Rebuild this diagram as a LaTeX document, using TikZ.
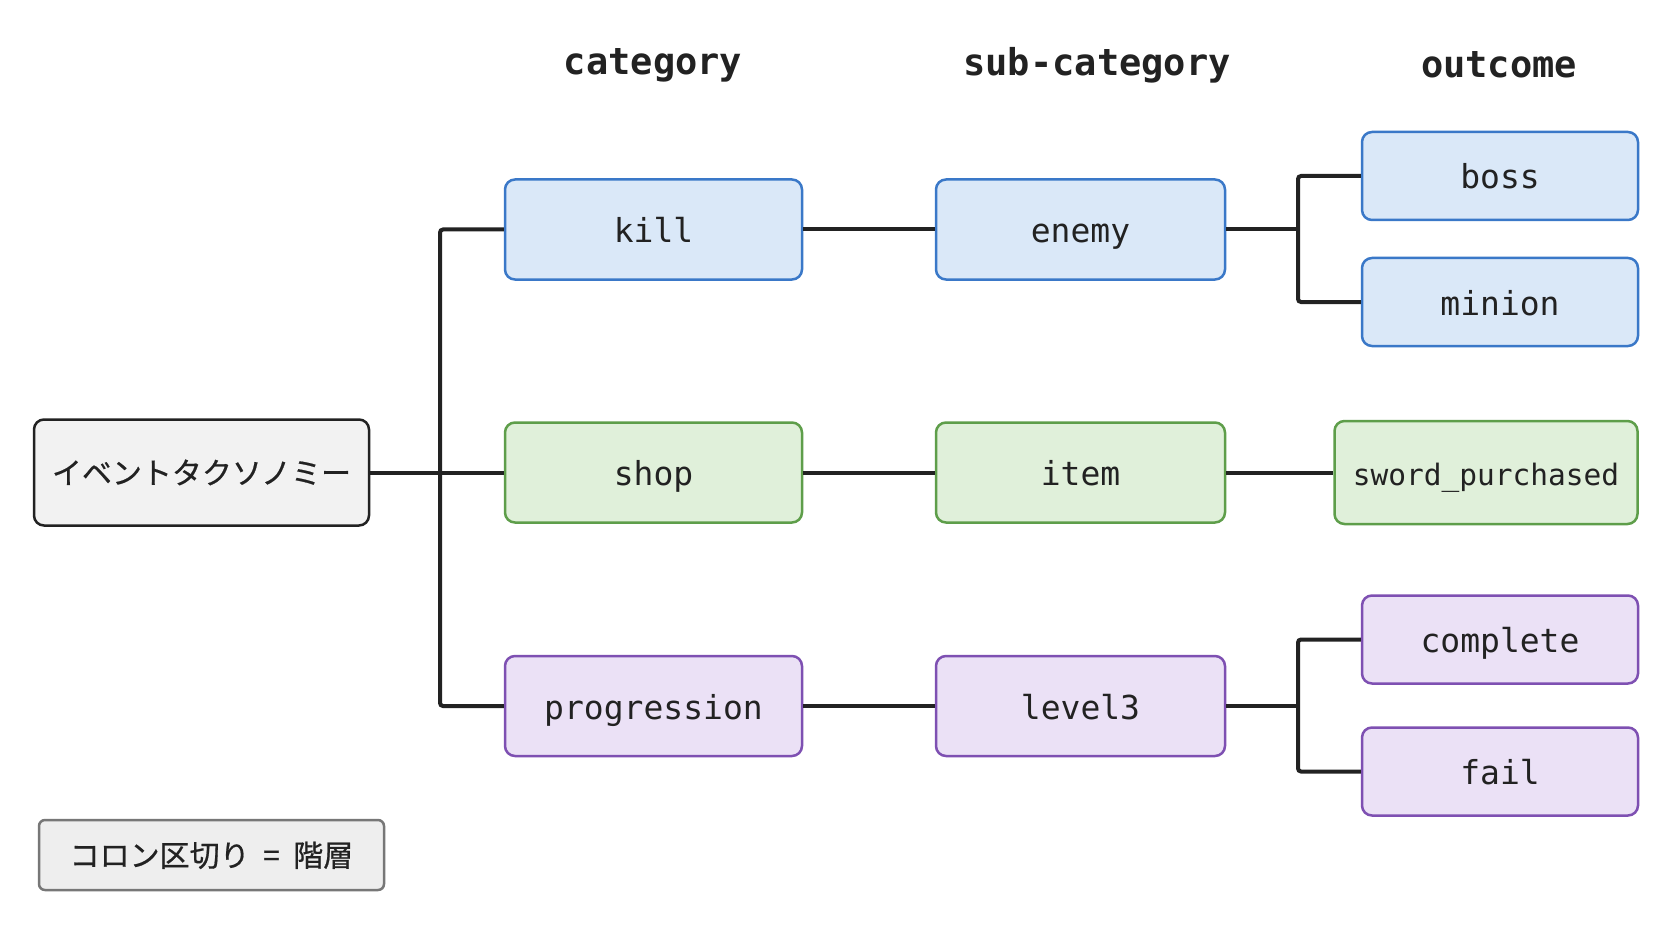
\documentclass[tikz,border=0pt]{standalone}
\usepackage{fontspec}
\setmonofont{DejaVu Sans Mono}
\newfontfamily\jpfont[FakeBold=0.6]{Noto Sans CJK JP}
\definecolor{bluefill}{HTML}{DAE8F8}
\definecolor{blueline}{HTML}{3A78C8}
\definecolor{greenfill}{HTML}{E0F0DA}
\definecolor{greenline}{HTML}{5E9E4A}
\definecolor{purpfill}{HTML}{EBE1F6}
\definecolor{purpline}{HTML}{7E50B2}
\definecolor{rootfill}{HTML}{F2F2F2}
\definecolor{legfill}{HTML}{EEEEEE}
\definecolor{legline}{HTML}{777777}
\definecolor{ink}{HTML}{222222}
\tikzset{
  box/.style={rectangle, rounded corners=10pt, line width=2.5pt, align=center, inner sep=0pt,
    text height=30pt, text depth=4pt, font=\ttfamily\fontsize{33}{38}\selectfont, text=ink},
  jptext/.style={text height=26pt, text depth=3pt},
  bluebox/.style={box, draw=blueline, fill=bluefill},
  greenbox/.style={box, draw=greenline, fill=greenfill},
  purpbox/.style={box, draw=purpline, fill=purpfill},
  catsize/.style={minimum width=297pt, minimum height=100pt},
  subsize/.style={minimum width=289pt, minimum height=100pt},
  outsize/.style={minimum width=276pt, minimum height=88pt},
  header/.style={font=\ttfamily\bfseries\fontsize{37}{42}\selectfont, text=ink},
  conn/.style={draw=ink, line width=4pt, rounded corners=3pt},
}
\begin{document}
\begin{tikzpicture}[x=1pt,y=-1pt]
\useasboundingbox[fill=white] (0,0) rectangle (1672,941);
% headers
\node[header] (h1) at (653,65) {category};
\node[header] (h2) at (1097,65) {sub-category};
\node[header] (h3) at (1499,65) {outcome};
% root
\node[box, jptext, draw=ink, fill=rootfill, minimum width=335pt, minimum height=106pt, font=\jpfont\fontsize{30}{36}\selectfont] (root) at (201.5,472.5) {イベントタクソノミー};
% categories
\node[bluebox, catsize] (kill) at (653.5,229.5) {kill};
\node[greenbox, catsize] (shop) at (653.5,472.5) {shop};
\node[purpbox, catsize] (prog) at (653.5,706) {progression};
% sub-categories
\node[bluebox, subsize] (enemy) at (1080.5,229.5) {enemy};
\node[greenbox, subsize] (item) at (1080.5,472.5) {item};
\node[purpbox, subsize] (level) at (1080.5,706) {level3};
% outcomes
\node[bluebox, outsize] (boss) at (1500,176) {boss};
\node[bluebox, outsize] (minion) at (1500,302) {minion};
\node[greenbox, minimum width=303pt, minimum height=103pt, font=\ttfamily\fontsize{29.5}{34}\selectfont] (sword) at (1486,472.5) {sword\_purchased};
\node[purpbox, outsize] (complete) at (1500,639.5) {complete};
\node[purpbox, outsize] (fail) at (1500,771.5) {fail};
% legend
\node[box, jptext, draw=legline, fill=legfill, minimum width=345pt, minimum height=70pt, font=\jpfont\fontsize{30}{34}\selectfont, rounded corners=6pt] (legend) at (211.5,855) {コロン区切り\hspace{0.45em}=\hspace{0.45em}階層};
% junctions
\coordinate (t) at (440,472.5);
\coordinate (b1) at (1298,229.5);
\coordinate (b3) at (1298,706);
% connectors
\draw[conn] (root.east) -- (shop.west);
\draw[conn] (kill.west) -| (t) |- (prog.west);
\draw[conn] (kill.east) -- (enemy.west);
\draw[conn] (shop.east) -- (item.west);
\draw[conn] (prog.east) -- (level.west);
\draw[conn] (enemy.east) -- (b1);
\draw[conn] (boss.west) -| (b1) |- (minion.west);
\draw[conn] (item.east) -- (sword.west);
\draw[conn] (level.east) -- (b3);
\draw[conn] (complete.west) -| (b3) |- (fail.west);
\end{tikzpicture}
\end{document}
